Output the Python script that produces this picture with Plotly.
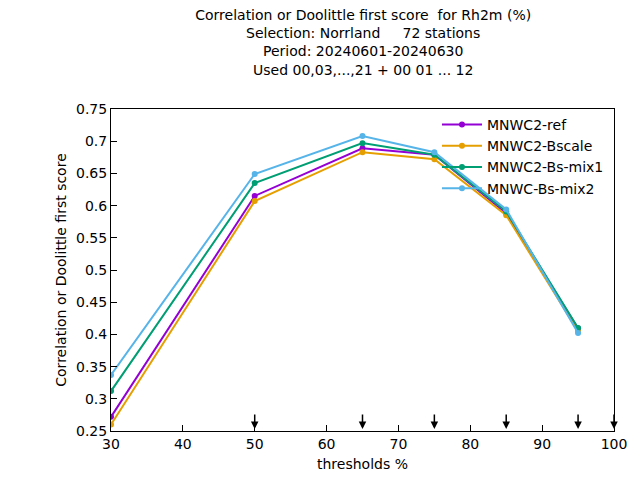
import plotly.graph_objects as go

thresholds = [30, 50, 65, 75, 85, 95]
names = ["MNWC2-ref", "MNWC2-Bscale", "MNWC2-Bs-mix1", "MNWC-Bs-mix2"]
colors = ["#9400d3", "#e69f00", "#009e73", "#56b4e9"]
scores = [
    [0.272, 0.615, 0.689, 0.679, 0.588, 0.409],
    [0.260, 0.607, 0.683, 0.672, 0.585, 0.405],
    [0.312, 0.635, 0.697, 0.679, 0.591, 0.410],
    [0.337, 0.649, 0.708, 0.683, 0.594, 0.402],
]
arrow_x = [50, 65, 75, 85, 95, 100]
y_ticks = [0.25, 0.3, 0.35, 0.4, 0.45, 0.5, 0.55, 0.6, 0.65, 0.7, 0.75]
y_labels = ["0.25", "0.3", "0.35", "0.4", "0.45", "0.5", "0.55", "0.6", "0.65", "0.7", "0.75"]

fig = go.Figure()
for name, color, ys in zip(names, colors, scores):
    fig.add_trace(go.Scatter(x=thresholds, y=ys, name=name, mode="lines+markers",
                             line=dict(color=color, width=2),
                             marker=dict(color=color, size=6, symbol="circle")))

for ax in arrow_x:
    fig.add_annotation(x=ax, y=0.253, ax=ax, ay=0.278, xref="x", yref="y",
                       axref="x", ayref="y", showarrow=True, arrowhead=2,
                       arrowsize=1, arrowwidth=1.5, arrowcolor="black", text="")

fig.update_layout(
    width=640, height=480, plot_bgcolor="white", paper_bgcolor="white",
    margin=dict(l=103, r=34, t=101, b=57),
    font=dict(family="DejaVu Sans", size=14, color="black"),
    title=dict(text="Correlation or Doolittle first score  for Rh2m (%)<br>Selection: Norrland     72 stations<br>Period: 20240601-20240630<br>Used 00,03,...,21 + 00 01 ... 12",
               x=0.555, xanchor="center", y=0.975, yanchor="top", font=dict(size=14)),
    legend=dict(x=0.99, y=1.0, xanchor="right", yanchor="top", bgcolor="rgba(0,0,0,0)",
                font=dict(size=14), tracegroupgap=0, itemwidth=40),
    xaxis=dict(title=dict(text="thresholds %", standoff=8, font=dict(size=14)), range=[30, 100], dtick=10,
               showgrid=False, zeroline=False, showline=True, mirror=True,
               linecolor="black", ticks="inside", tickcolor="black", ticklen=6),
    yaxis=dict(title=dict(text="Correlation or Doolittle first score", standoff=6, font=dict(size=14)),
               range=[0.25, 0.75], tickvals=y_ticks, ticktext=y_labels,
               showgrid=False, zeroline=False, showline=True, mirror=True,
               linecolor="black", ticks="inside", tickcolor="black", ticklen=6),
)
fig.write_html("out.html")
